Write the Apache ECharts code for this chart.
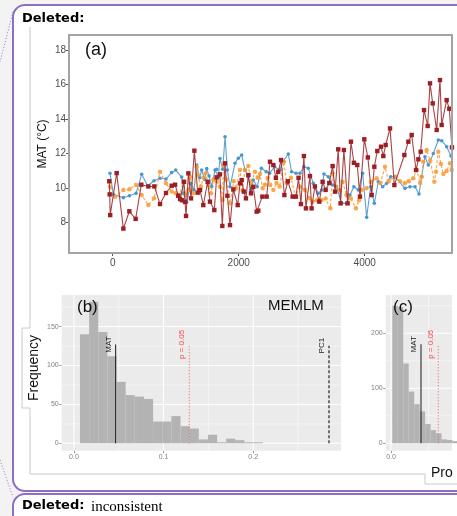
<!DOCTYPE html>
<html>
<head>
<meta charset="utf-8">
<script src="https://cdn.jsdelivr.net/npm/echarts@6/dist/echarts.min.js"></script>
<style>
  html, body { margin: 0; padding: 0; background: #f3f3f3; }
  #chart { width: 457px; height: 516px; }
</style>
</head>
<body>
<div id="chart"></div>
<script>
// ---- (a) MAT reconstructions through time (years, °C) ----
const blueYears = [-43,11,169,265,370,460,555,656,751,846,936,1000,1095,1121,1174,1238,1290,1333,1380,1412,1460,1492,1530,1571,1624,1650,1677,1703,1746,1783,1820,1862,1941,1994,2047,2100,2150,2190,2230,2294,2360,2437,2490,2570,2650,2700,2787,2840,2908,2972,3035,3104,3184,3263,3316,3353,3422,3491,3554,3634,3713,3766,3829,3898,3967,4031,4094,4153,4216,4285,4349,4412,4481,4640,4719,4799,4862,4904,4957,5010,5090,5169,5222,5301,5370];
const blueMAT = [10.86,9.64,9.45,9.56,9.70,10.80,10.14,10.43,10.57,10.53,10.90,11.05,10.64,9.70,9.18,10.28,9.9,11.34,10.6,11.05,10.5,11.13,10.7,10.10,11.05,11.09,10.66,11.72,11.09,12.98,11.05,10.08,11.44,11.73,11.92,11.05,10.66,9.89,10.47,10.08,11.15,10.95,10.86,11.24,11.05,11.53,11.98,10.95,10.86,10.86,11.24,11.15,10.28,9.70,9.89,10.82,10.66,10.18,10.08,9.12,9.12,9.60,10.08,9.89,10.86,8.31,10.08,9.12,10.37,10.08,10.28,10.66,10.66,9.99,10.08,10.08,9.66,10.66,11.82,11.34,12.01,12.79,12.75,12.40,11.86];

const orangeYears = [-42,37,169,265,370,460,566,656,751,846,936,1000,1060,1121,1160,1200,1227,1280,1333,1349,1400,1440,1475,1520,1560,1600,1650,1700,1745,1756,1800,1862,1920,1960,2020,2060,2100,2153,2200,2258,2300,2337,2380,2416,2460,2500,2550,2600,2650,2719,2760,2830,2900,2970,3052,3120,3173,3240,3316,3380,3454,3491,3540,3600,3650,3710,3780,3861,3910,3950,4030,4100,4190,4250,4322,4380,4481,4560,4639,4700,4771,4825,4880,4904,4930,4983,5040,5105,5132,5168,5210,5248,5300,5354,5380];
const orangeMAT = [10.08,9.5,9.89,9.93,10.18,9.6,9.02,9.41,10.95,10.28,9.8,9.7,9.6,10.37,9.6,9.89,10.66,9.7,11.24,10.76,10.1,10.6,10.86,10.2,9.7,10.5,10.4,10.08,9.31,11.34,10.5,9.12,10.4,10.0,11.05,9.9,11.05,11.28,10.3,10.95,10.6,10.82,10.0,10.2,10.6,10.2,9.89,10.3,10.1,11.53,10.3,10.6,9.5,10.1,9.89,9.41,9.22,9.3,9.31,9.4,8.83,10.86,10.1,9.9,10.37,9.6,9.4,8.83,9.3,9.9,10.0,10.37,10.57,10.3,11.24,10.4,10.66,10.4,10.28,10.4,10.57,11.05,10.3,10.66,11.53,12.21,11.6,10.37,10.95,12.11,11.4,10.82,11.0,11.44,11.05];

const redYears = [-55,-48,-40,63,169,264,364,454,566,661,751,846,936,990,1040,1069,1100,1132,1148,1164,1201,1243,1296,1349,1386,1438,1507,1544,1613,1650,1700,1740,1783,1820,1862,1915,1984,2021,2047,2080,2115,2153,2195,2232,2285,2311,2375,2444,2497,2550,2590,2628,2672,2725,2780,2856,2908,2950,2988,3035,3067,3131,3157,3210,3279,3332,3380,3438,3491,3530,3580,3617,3670,3729,3782,3829,3882,3925,3994,4050,4111,4153,4200,4259,4296,4333,4402,4471,4630,4693,4746,4815,4852,4889,4942,5000,5037,5080,5143,5195,5222,5301,5343,5385];
const redMAT = [10.4,9.64,8.44,10.87,7.66,8.66,8.22,10.2,10.1,10.1,9.08,9.72,10.14,10.2,9.56,9.37,9.3,10.37,9.2,8.39,10.86,9.41,12.17,9.74,9.89,9.02,10.37,9.22,8.73,10.63,10.8,7.81,11.44,9.56,7.86,9.93,9.02,10.28,10.47,9.8,9.41,10.76,9.70,10.08,8.64,8.70,9.51,9.51,11.53,11.34,10.6,10.95,11.63,9.6,10.4,9.51,9.51,10.6,9.08,11.86,8.83,10.7,8.83,10.1,9.22,10.37,9.9,10.3,11.28,9.8,12.25,9.12,12.21,9.12,12.69,11.47,11.34,9.51,12.83,11.78,9.60,11.24,12.15,12.40,11.86,12.50,13.46,10.18,11.92,12.69,13.08,11.05,11.67,12.11,14.52,13.6,16.07,14.91,13.37,16.26,13.66,15.1,14.6,12.36];

const ticksYearA = [0, 2000, 4000];
const ticksMatA = [8, 10, 12, 14, 16, 18];

// ---- (b) MEMLM null distribution ----
const binStartB = 0.0067;
const binWidthB = 0.0102;
const countsB = [140, 182, 143, 112, 79, 62, 60, 57, 28, 28, 35, 22, 19, 5, 11, 1.3, 6, 4, 1.3, 1.3];
const refLabelsB = ['MAT', 'p = 0.05', 'PC1'];
const refValuesB = [0.0465, 0.1287, 0.2846];
const refTopsB = [127, 127, 125.5];
const ticksXB = [0, 0.1, 0.2];
const ticksYB = [0, 50, 100, 150];
const gridXB = [0, 0.05, 0.1, 0.15, 0.2, 0.25];
const gridYB = [0, 25, 50, 75, 100, 125, 150, 175];

// ---- (c) second null distribution ----
const binStartC = 0.0017;
const binWidthC = 0.0073;
const countsC = [250, 248, 145, 94, 71, 58, 35, 24, 18, 7, 6, 4];
const refLabelsC = ['MAT', 'p = 0.05'];
const refValuesC = [0.040, 0.063];
const refTopsC = [180, 180];
const ticksXC = [0];
const ticksYC = [0, 100, 200];
const gridXC = [0, 0.05];
const gridYC = [0, 50, 100, 150, 200, 250];

// ---------------------------------------------------------------
const FONT = '"Liberation Sans", Arial, sans-serif';
const zip = (xs, ys) => xs.slice(0, Math.min(xs.length, ys.length)).map((x, i) => [x, ys[i]]);
const bins = (start, w, counts) => counts.map((c, i) => [start + i * w, start + (i + 1) * w, c]);

const axB = { xMin: -0.0137, xMax: 0.298, yMin: -9.5, yMax: 190.6 };
const axC = { xMin: -0.00707, xMax: 0.0813, yMin: -13.5, yMax: 269.6 };

function gridLines(gi, values, dir, width, ax) {
  return {
    type: 'custom', xAxisIndex: gi, yAxisIndex: gi, z: 1, silent: true,
    data: values.map(v => [v]),
    encode: dir === 'v' ? { x: 0 } : { y: 0 },
    renderItem: (params, api) => {
      const v = api.value(0);
      const a = dir === 'v' ? api.coord([v, ax.yMin]) : api.coord([ax.xMin, v]);
      const b = dir === 'v' ? api.coord([v, ax.yMax]) : api.coord([ax.xMax, v]);
      return { type: 'line', shape: { x1: a[0], y1: a[1], x2: b[0], y2: b[1] },
               style: { stroke: '#ffffff', lineWidth: width } };
    }
  };
}

function histogram(gi, data) {
  return {
    type: 'custom', xAxisIndex: gi, yAxisIndex: gi, z: 3, silent: true,
    data: data, encode: { x: [0, 1], y: 2 },
    renderItem: (params, api) => {
      const a = api.coord([api.value(0), 0]);
      const b = api.coord([api.value(1), api.value(2)]);
      return { type: 'rect', shape: { x: a[0], y: b[1], width: b[0] - a[0], height: a[1] - b[1] },
               style: { fill: '#b3b3b3' } };
    }
  };
}

const refStyles = {
  'MAT':      { stroke: '#1a1a1a', lineDash: null, lineWidth: 1, color: '#1a1a1a' },
  'p = 0.05': { stroke: '#ff5555', lineDash: [1, 2], lineWidth: 1, color: '#ff4444' },
  'PC1':      { stroke: '#222222', lineDash: [3, 2], lineWidth: 1.2, color: '#1a1a1a' }
};

function refLines(gi, labels, values, tops) {
  return {
    type: 'custom', xAxisIndex: gi, yAxisIndex: gi, z: 5, silent: true,
    data: values.map((v, i) => [v, tops[i], i]),
    encode: { x: 0, y: 1 },
    renderItem: (params, api) => {
      const lab = labels[api.value(2)];
      const st = refStyles[lab];
      const top = api.coord([api.value(0), api.value(1)]);
      const base = api.coord([api.value(0), 0]);
      return {
        type: 'group',
        children: [
          { type: 'line', shape: { x1: base[0], y1: base[1], x2: top[0], y2: top[1] },
            style: { stroke: st.stroke, lineWidth: st.lineWidth, lineDash: st.lineDash } },
          { type: 'text', x: top[0] - 7.2, y: top[1], rotation: Math.PI / 2,
            style: { text: lab, fill: st.color, font: '8px ' + FONT, align: 'center', verticalAlign: 'middle' } }
        ]
      };
    }
  };
}

const smallAxisLabel = (vals, fmt) => ({
  customValues: vals, color: '#7f7f7f', fontSize: 7, fontFamily: FONT, margin: 3,
  formatter: fmt
});
const smallTick = vals => ({ show: true, customValues: vals, length: 2.5, lineStyle: { color: '#7f7f7f', width: 0.8 } });
const noLine = { show: false, onZero: false };

const option = {
  animation: false,
  backgroundColor: '#f3f3f3',
  grid: [
    { left: 69, top: 35, width: 383, height: 218, show: true, backgroundColor: 'transparent', borderColor: '#a3a3a3', borderWidth: 2, z: 4 },
    { left: 61.7, top: 295, width: 279.3, height: 155.7, show: true, backgroundColor: '#ebebeb', borderWidth: 0 },
    { left: 385.7, top: 295, width: 66.3, height: 155.7, show: true, backgroundColor: '#ebebeb', borderWidth: 0 }
  ],
  xAxis: [
    { type: 'value', gridIndex: 0, min: -694, max: 5386, splitLine: { show: false }, axisLine: noLine,
      axisTick: { show: true, customValues: ticksYearA, length: 3, lineStyle: { color: '#555', width: 1 } },
      axisLabel: { customValues: ticksYearA, color: '#4d4d4d', fontSize: 10, fontFamily: FONT, margin: 5, formatter: v => String(v) } },
    { type: 'value', gridIndex: 1, min: axB.xMin, max: axB.xMax, splitLine: { show: false }, axisLine: noLine,
      axisTick: smallTick(ticksXB), axisLabel: smallAxisLabel(ticksXB, v => v.toFixed(1)) },
    { type: 'value', gridIndex: 2, min: axC.xMin, max: axC.xMax, splitLine: { show: false }, axisLine: noLine,
      axisTick: smallTick(ticksXC), axisLabel: smallAxisLabel(ticksXC, v => v.toFixed(1)) }
  ],
  yAxis: [
    { type: 'value', gridIndex: 0, min: 6.245, max: 18.87, splitLine: { show: false }, axisLine: noLine,
      axisTick: { show: true, customValues: ticksMatA, length: 3, lineStyle: { color: '#555', width: 1 } },
      axisLabel: { customValues: ticksMatA, color: '#4d4d4d', fontSize: 10, fontFamily: FONT, margin: 3, formatter: v => String(v) } },
    { type: 'value', gridIndex: 1, min: axB.yMin, max: axB.yMax, splitLine: { show: false }, axisLine: noLine,
      axisTick: smallTick(ticksYB), axisLabel: smallAxisLabel(ticksYB, v => String(v)) },
    { type: 'value', gridIndex: 2, min: axC.yMin, max: axC.yMax, splitLine: { show: false }, axisLine: noLine,
      axisTick: smallTick(ticksYC), axisLabel: smallAxisLabel(ticksYC, v => String(v)) }
  ],
  series: [
    { type: 'line', xAxisIndex: 0, yAxisIndex: 0, data: zip(blueYears, blueMAT), z: 2,
      symbol: 'circle', symbolSize: 3.6, lineStyle: { color: '#4a97cc', width: 1.1, opacity: 0.9 },
      itemStyle: { color: '#4a97cc' } },
    { type: 'line', xAxisIndex: 0, yAxisIndex: 0, data: zip(orangeYears, orangeMAT), z: 2,
      symbol: 'circle', symbolSize: 4.5, lineStyle: { color: '#f9a040', width: 1.2, type: [3, 2], opacity: 0.9 },
      itemStyle: { color: '#f99a35', opacity: 0.85 } },
    { type: 'line', xAxisIndex: 0, yAxisIndex: 0, data: zip(redYears, redMAT), z: 3,
      symbol: 'rect', symbolSize: 4.4, lineStyle: { color: '#9b2226', width: 1.1, opacity: 0.85 },
      itemStyle: { color: '#9b1f24' } },

    gridLines(1, gridXB.filter(v => Math.round(v * 100) % 10 !== 0), 'v', 0.5, axB),
    gridLines(1, gridXB.filter(v => Math.round(v * 100) % 10 === 0), 'v', 1, axB),
    gridLines(1, gridYB.filter(v => v % 50 !== 0), 'h', 0.5, axB),
    gridLines(1, gridYB.filter(v => v % 50 === 0), 'h', 1, axB),
    histogram(1, bins(binStartB, binWidthB, countsB)),
    refLines(1, refLabelsB, refValuesB, refTopsB),

    gridLines(2, gridXC.filter(v => v === 0), 'v', 1, axC),
    gridLines(2, gridXC.filter(v => v !== 0), 'v', 0.5, axC),
    gridLines(2, gridYC.filter(v => v % 100 !== 0), 'h', 0.5, axC),
    gridLines(2, gridYC.filter(v => v % 100 === 0), 'h', 1, axC),
    histogram(2, bins(binStartC, binWidthC, countsC)),
    refLines(2, refLabelsC, refValuesC, refTopsC)
  ],
  graphic: { elements: [
    // comment balloons
    { type: 'rect', z: -100, shape: { x: 13, y: 5, width: 480, height: 486, r: 12 },
      style: { fill: '#ffffff', stroke: '#8d70c4', lineWidth: 2 } },
    { type: 'rect', z: -100, shape: { x: 13, y: 494, width: 480, height: 60, r: 12 },
      style: { fill: '#ffffff', stroke: '#8d70c4', lineWidth: 2 } },
    { type: 'polyline', z: -99, shape: { points: [[13, 12], [0, 62]] },
      style: { stroke: '#8d70c4', lineWidth: 1, lineDash: [1, 2], fill: null } },
    { type: 'polyline', z: -99, shape: { points: [[0, 460], [13, 497]] },
      style: { stroke: '#8d70c4', lineWidth: 1, lineDash: [1, 2], fill: null } },
    { type: 'text', z: 50, x: 22, y: 19,
      style: { text: 'Deleted:', font: 'bold 13px "DejaVu Sans"', fill: '#000', verticalAlign: 'middle' } },
    { type: 'text', z: 50, x: 22, y: 506,
      style: { text: 'Deleted:', font: 'bold 13px "DejaVu Sans"', fill: '#000', verticalAlign: 'middle' } },
    { type: 'text', z: 50, x: 91, y: 507,
      style: { text: 'inconsistent', font: '15px "Liberation Serif"', fill: '#000', verticalAlign: 'middle' } },
    // figure frame
    { type: 'polyline', z: -98, shape: { points: [[30, 27], [30, 328], [22, 328], [22, 408], [30, 408], [30, 474], [425, 474], [425, 484], [460, 484]] },
      style: { stroke: '#c8c8c8', lineWidth: 1, fill: null } },
    // panel texts
    { type: 'text', z: 50, x: 85, y: 50,
      style: { text: '(a)', font: '18px ' + FONT, fill: '#111', verticalAlign: 'middle' } },
    { type: 'text', z: 50, x: 43, y: 144, rotation: Math.PI / 2,
      style: { text: 'MAT (°C)', font: '12px ' + FONT, fill: '#111', align: 'center', verticalAlign: 'middle' } },
    { type: 'text', z: 50, x: 77, y: 307,
      style: { text: '(b)', font: '17px ' + FONT, fill: '#111', verticalAlign: 'middle' } },
    { type: 'text', z: 50, x: 268, y: 306,
      style: { text: 'MEMLM', font: '15px ' + FONT, fill: '#111', verticalAlign: 'middle' } },
    { type: 'text', z: 50, x: 393, y: 307,
      style: { text: '(c)', font: '17px ' + FONT, fill: '#111', verticalAlign: 'middle' } },
    { type: 'text', z: 50, x: 34, y: 368, rotation: Math.PI / 2,
      style: { text: 'Frequency', font: '14px ' + FONT, fill: '#111', align: 'center', verticalAlign: 'middle' } },
    { type: 'text', z: 50, x: 431, y: 473,
      style: { text: 'Pro', font: '14px ' + FONT, fill: '#111', verticalAlign: 'middle' } }
  ] }
};

const chart = echarts.init(document.getElementById('chart'), null, { renderer: 'canvas' });
chart.setOption(option);
</script>
</body>
</html>
